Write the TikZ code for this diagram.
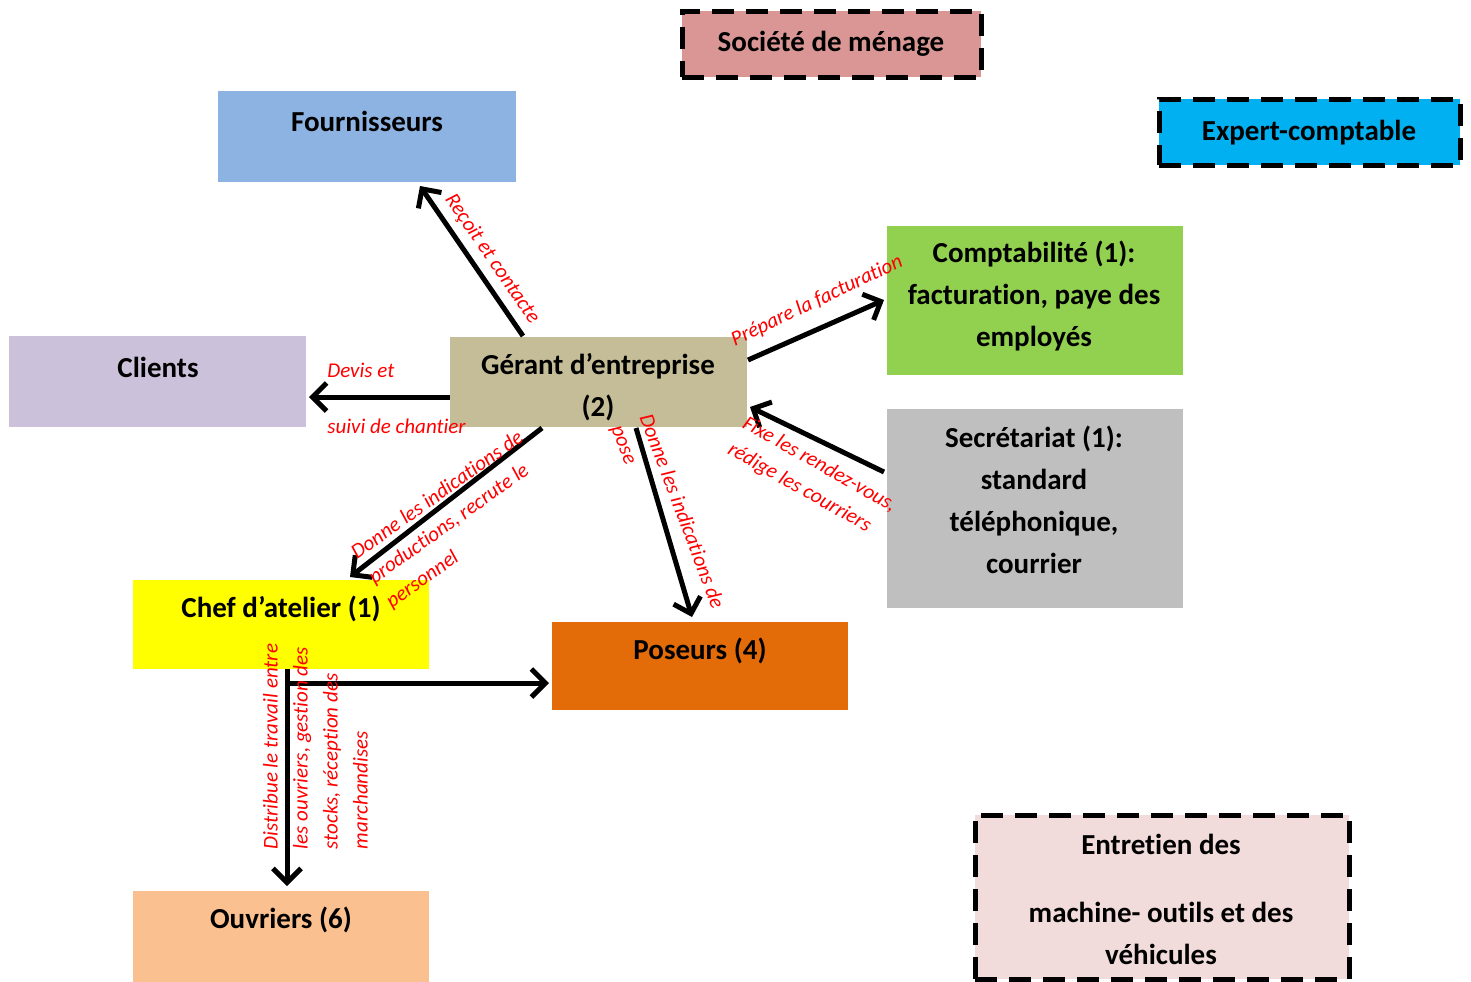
\documentclass[tikz,border=0pt]{standalone}
\usepackage{fontspec}
\setmainfont{Carlito}[Ligatures={NoCommon}]
\usetikzlibrary{arrows.meta,calc}
\definecolor{cSoc}{HTML}{D99694}
\definecolor{cFour}{HTML}{8DB3E2}
\definecolor{cExp}{HTML}{00B0F0}
\definecolor{cComp}{HTML}{92D050}
\definecolor{cCli}{HTML}{CCC1DA}
\definecolor{cGer}{HTML}{C4BD97}
\definecolor{cSec}{HTML}{BFBFBF}
\definecolor{cChef}{HTML}{FFFF00}
\definecolor{cPos}{HTML}{E36C09}
\definecolor{cOuv}{HTML}{FAC08F}
\definecolor{cEnt}{HTML}{F2DCDB}
\definecolor{cRed}{HTML}{FF0000}
\begin{document}
\begin{tikzpicture}[x=0.5pt,y=-0.5pt,
  box/.style={draw=none,anchor=north west,inner sep=0pt,outer sep=0pt},
  dbox/.style={draw=black,line width=2.5pt,dash pattern=on 11pt off 6pt,anchor=north west,inner sep=0pt,outer sep=0pt},
  txt/.style={font=\fontsize{14.5}{21}\selectfont\bfseries,align=center,inner sep=0pt},
  lab/.style={font=\fontsize{10.5}{15}\selectfont\itshape,text=cRed,inner sep=0pt},
  arr/.style={line width=2.5pt,-{Straight Barb[length=7pt,width=14pt]}}]
\useasboundingbox (0,0) rectangle (1471,981);
% boxes
\node[dbox,fill=cSoc,minimum width=149.5pt,minimum height=33pt] (soc) at (682,11) {};
\node[box,fill=cFour,minimum width=149pt,minimum height=45.5pt] (four) at (218,91) {};
\node[dbox,fill=cExp,minimum width=150.5pt,minimum height=33pt] (exp) at (1159,99) {};
\node[box,fill=cComp,minimum width=148pt,minimum height=74.5pt] (comp) at (887,226) {};
\node[box,fill=cCli,minimum width=148.5pt,minimum height=45.5pt] (cli) at (9,336) {};
\node[box,fill=cGer,minimum width=148.5pt,minimum height=45pt] (ger) at (450,337) {};
\node[box,fill=cSec,minimum width=148pt,minimum height=99.5pt] (sec) at (887,409) {};
\node[box,fill=cChef,minimum width=148pt,minimum height=44.5pt] (chef) at (133,580) {};
\node[box,fill=cPos,minimum width=148pt,minimum height=44pt] (pos) at (552,622) {};
\node[box,fill=cOuv,minimum width=148pt,minimum height=50pt] (ouv) at (133,891) {};
\node[dbox,fill=cEnt,minimum width=187pt,minimum height=82pt] (ent) at (975,815) {};
% texts
\node[txt] (tsoc) at (831,44) {Société de ménage};
\node[txt] (tfour) at (367,121) {Fournisseurs};
\node[txt] (texp) at (1309,133) {Expert-comptable};
\node[txt] (tcomp) at (1034,296) {Comptabilité (1):\\facturation, paye des\\employés};
\node[txt] (tcli) at (158,367) {Clients};
\node[txt] (tger) at (598,387) {Gérant d’entreprise\\(2)};
\node[txt] (tsec) at (1034,500) {Secrétariat (1):\\standard\\téléphonique,\\courrier};
\node[txt] (tchef) at (281,609) {Chef d’atelier (1)};
\node[txt] (tpos) at (700,651) {Poseurs (4)};
\node[txt] (touv) at (281,920) {Ouvriers (6)};
\node[txt] (tent1) at (1161,844) {Entretien des};
\node[txt] (tent2) at (1161,933) {machine- outils et des\\véhicules};
% arrows
\draw[arr] ($(ger.north west)+(73,-1)$) -- ($(four.south west)+(202,4)$);
\draw[arr] ($(ger.north west)+(0,60)$) -- ($(cli.north east)+(3,61)$);
\draw[arr] ($(ger.north east)+(1,23)$) -- ($(comp.north west)+(-3,74)$);
\draw[arr] ($(sec.north west)+(-3,63)$) -- ($(ger.north east)+(3,70)$);
\draw[arr] ($(ger.south west)+(92,1)$) -- ($(chef.north west)+(217,-3)$);
\draw[arr] ($(ger.south west)+(186,1)$) -- ($(pos.north west)+(140,-5)$);
\draw[arr] ($(chef.south west)+(154,0)$) -- ($(ouv.north west)+(154,-5)$);
\coordinate (br) at ($(chef.south west)+(152,14)$);
\draw[arr] (br) -- ($(pos.north west)+(-3,61)$);
% labels
\node[lab,rotate=-55.5] (l1) at (492,259) {Reçoit et contacte};
\node[lab,anchor=west] (l2a) at (327,370) {Devis et};
\node[lab,anchor=west] (l2b) at (327,426) {suivi de chantier};
\node[lab,rotate=25.4] (l3) at (817,301) {Prépare la facturation};
\node[lab,rotate=-29.5,align=left] (l4) at (812,478) {Fixe les rendez-vous,\\rédige les courriers};
\node[lab,rotate=35.5,align=left] (l5) at (455,520) {Donne les indications de\\productions, recrute le\\personnel};
\node[lab,rotate=-69.2,align=left] (l6) at (667,517) {Donne les indications de\\pose};
\node[lab,rotate=90,align=left] (l7) at (315.5,746.5) {Distribue le travail entre\\les ouvriers, gestion des\\stocks, réception des\\marchandises};
\end{tikzpicture}
\end{document}
